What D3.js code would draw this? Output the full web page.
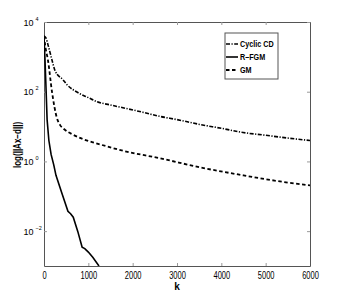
<!DOCTYPE html>
<html><head><meta charset="utf-8">
<script src="https://cdn.jsdelivr.net/npm/d3@7"></script>
<style>body{margin:0;background:#fff}svg{display:block}</style>
</head><body>
<script>
const xTicks = [0,1000,2000,3000,4000,5000,6000];
const yTickExps = [4,2,0,-2];
const seriesNames = ["Cyclic CD","R\u2013FGM","GM"];
const cyclicK = [0,40,100,180,250,430,520,770,1000,1200,1500,1780,2200,2620,3000,3520,4000,4490,5000,5500,6000];
const cyclicLog = [3.6,3.55,3.3,2.91,2.6,2.34,2.2,1.97,1.83,1.71,1.62,1.54,1.42,1.29,1.2,1.06,0.95,0.83,0.75,0.67,0.6];
const rfgmK = [0,20,40,70,110,160,220,270,400,540,600,660,760,860,920,1000,1100,1240];
const rfgmLog = [3.6,3.0,2.3,1.2,0.6,0.2,-0.1,-0.4,-0.9,-1.43,-1.5,-1.6,-2.0,-2.46,-2.5,-2.6,-2.75,-3.0];
const gmK = [0,30,90,180,290,360,450,650,900,1260,1800,2620,3520,4500,5200,6000];
const gmLog = [3.6,3.3,2.9,2.0,1.25,1.05,0.93,0.77,0.63,0.49,0.3,0.09,-0.17,-0.4,-0.55,-0.69];

const W=343,H=300, L=44,R=310,T=22,B=266;
const svg=d3.select("body").append("svg").attr("width",W).attr("height",H);
const x=d3.scaleLinear().domain([0,6000]).range([L,R]);
const y=d3.scaleLog().domain([1e-3,1e4]).range([B,T]);
const font="'Liberation Sans',Arial,sans-serif";
const frameCol="#555";

function condense(sel,ratio){
  sel.each(function(){
    const n=this; const w=n.getComputedTextLength();
    if(w>0){n.setAttribute("textLength",(w*ratio).toFixed(2));n.setAttribute("lengthAdjust","spacingAndGlyphs");}
  });
}

const gB=svg.append("g").attr("transform",`translate(0,${B})`)
  .call(d3.axisBottom(x).tickValues(xTicks).tickSizeInner(-3).tickSizeOuter(0).tickPadding(6).tickFormat(d3.format("d")));
const gT=svg.append("g").attr("transform",`translate(0,${T})`)
  .call(d3.axisTop(x).tickValues(xTicks).tickSizeInner(-3).tickSizeOuter(0).tickFormat(""));
const yVals=yTickExps.map(e=>Math.pow(10,e));
const gL=svg.append("g").attr("transform",`translate(${L},0)`)
  .call(d3.axisLeft(y).tickValues(yVals).tickSizeInner(-3).tickSizeOuter(0).tickFormat(""));
const gR=svg.append("g").attr("transform",`translate(${R},0)`)
  .call(d3.axisRight(y).tickValues(yVals).tickSizeInner(-3).tickSizeOuter(0).tickFormat(""));
[gB,gT,gL,gR].forEach(g=>{g.selectAll("path.domain").attr("stroke",frameCol).attr("stroke-width",1);
  g.selectAll(".tick line").attr("stroke","#999");});
gB.selectAll(".tick text").attr("font-family",font).attr("font-size",10).attr("fill","#000");
condense(gB.selectAll(".tick text"),0.75);

gL.selectAll(".tick").each(function(d){
  const e=Math.round(Math.log10(d));
  const g=d3.select(this);
  g.append("text").attr("x",-10.5).attr("y",3).attr("text-anchor","end")
    .attr("font-family",font).attr("font-size",9).attr("fill","#000").text("10");
  g.append("text").attr("x",-8.5).attr("y",-2).attr("text-anchor","start")
    .attr("font-family",font).attr("font-size",5.5).attr("fill","#000").text(String(e).replace("-","\u2212"));
});

const smooth=d3.line().curve(d3.curveMonotoneX).x(d=>x(d[0])).y(d=>y(Math.pow(10,d[1])));
const straight=d3.line().x(d=>x(d[0])).y(d=>y(Math.pow(10,d[1])));
const data=[
  {name:seriesNames[0],pts:d3.zip(cyclicK,cyclicLog),dash:"4,1.5,1.2,1.5",w:1.6,ln:smooth},
  {name:seriesNames[1],pts:d3.zip(rfgmK,rfgmLog),dash:null,w:1.6,ln:straight},
  {name:seriesNames[2],pts:d3.zip(gmK,gmLog),dash:"3.5,2.5",w:1.8,ln:smooth}
];
svg.append("clipPath").attr("id","c").append("rect").attr("x",L).attr("y",T).attr("width",R-L).attr("height",B-T);
data.forEach(s=>{
  svg.append("path").attr("d",s.ln(s.pts)).attr("fill","none").attr("stroke","#000")
   .attr("stroke-width",s.w).attr("stroke-dasharray",s.dash).attr("clip-path","url(#c)");
});

svg.append("text").attr("x",177).attr("y",290).attr("text-anchor","middle")
  .attr("font-family",font).attr("font-size",10).attr("font-weight","bold").text("k");
const yl=svg.append("text").attr("transform","translate(21,145) rotate(-90)").attr("text-anchor","middle")
  .attr("font-family",font).attr("font-size",10).attr("font-weight","bold").text("log(||Ax\u2212d||)");
condense(yl,0.8);

const lg=svg.append("g");
lg.append("rect").attr("x",225).attr("y",33).attr("width",53).attr("height",46)
  .attr("fill","#fff").attr("stroke",frameCol).attr("stroke-width",1);
const ly=[44,57,70];
data.forEach((s,i)=>{
  lg.append("line").attr("x1",226).attr("x2",238).attr("y1",ly[i]).attr("y2",ly[i])
    .attr("stroke","#000").attr("stroke-width",s.w).attr("stroke-dasharray",s.dash);
  const t=lg.append("text").attr("x",240).attr("y",ly[i]).attr("dy","0.35em")
    .attr("font-family",font).attr("font-size",9).attr("font-weight","bold").text(s.name);
  condense(t,0.8);
});
</script>
</body></html>
